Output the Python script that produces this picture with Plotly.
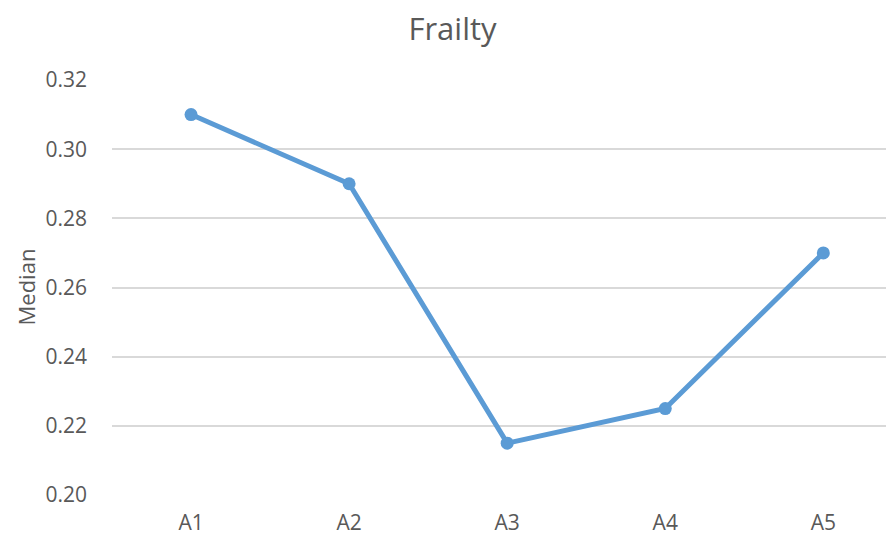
import plotly.graph_objects as go

categories = ["A1", "A2", "A3", "A4", "A5"]
median_values = [0.31, 0.29, 0.215, 0.225, 0.27]
y_ticks = [0.20, 0.22, 0.24, 0.26, 0.28, 0.30, 0.32]

fig = go.Figure()
fig.add_trace(go.Scatter(
    x=list(range(len(categories))),
    y=median_values,
    mode="lines+markers",
    line=dict(color="#5B9BD5", width=5),
    marker=dict(color="#5B9BD5", size=13),
    showlegend=False,
))

font_family = "Open Sans, Liberation Sans, sans-serif"
W, H = 886, 529  # page body has an 8px margin
fig.update_layout(
    width=W, height=H,
    paper_bgcolor="white", plot_bgcolor="white",
    margin=dict(l=104, r=0, t=72, b=42),
    title=dict(text="Frailty", x=(452.5 - 8) / W, xanchor="center",
               y=1 - 21 / H, yanchor="middle",
               font=dict(family=font_family, size=31, color="#595959")),
    font=dict(family=font_family, color="#595959", size=21),
)
fig.update_xaxes(
    range=[-0.5, 4.447],
    tickvals=list(range(len(categories))),
    ticktext=categories,
    showgrid=False, zeroline=False,
    showline=False,
    ticks="", ticklen=0,
    ticklabelstandoff=13,
    automargin=False,
    tickfont=dict(size=21, color="#595959"),
)
fig.update_yaxes(
    range=[0.20, 0.32],
    tickvals=y_ticks,
    tickformat=".2f",
    showgrid=True, gridcolor="#D9D9D9", gridwidth=1.5,
    zeroline=False, showline=False,
    ticks="", ticklen=0,
    ticklabelstandoff=24,
    automargin=False,
    tickfont=dict(size=21, color="#595959"),
)
fig.add_annotation(
    text="Median", textangle=-90,
    xref="paper", yref="paper", x=0, y=0.5,
    xshift=-(104 - 17), xanchor="center", yanchor="middle",
    showarrow=False,
    font=dict(family=font_family, size=22, color="#595959"),
)

fig.write_html("out.html")
